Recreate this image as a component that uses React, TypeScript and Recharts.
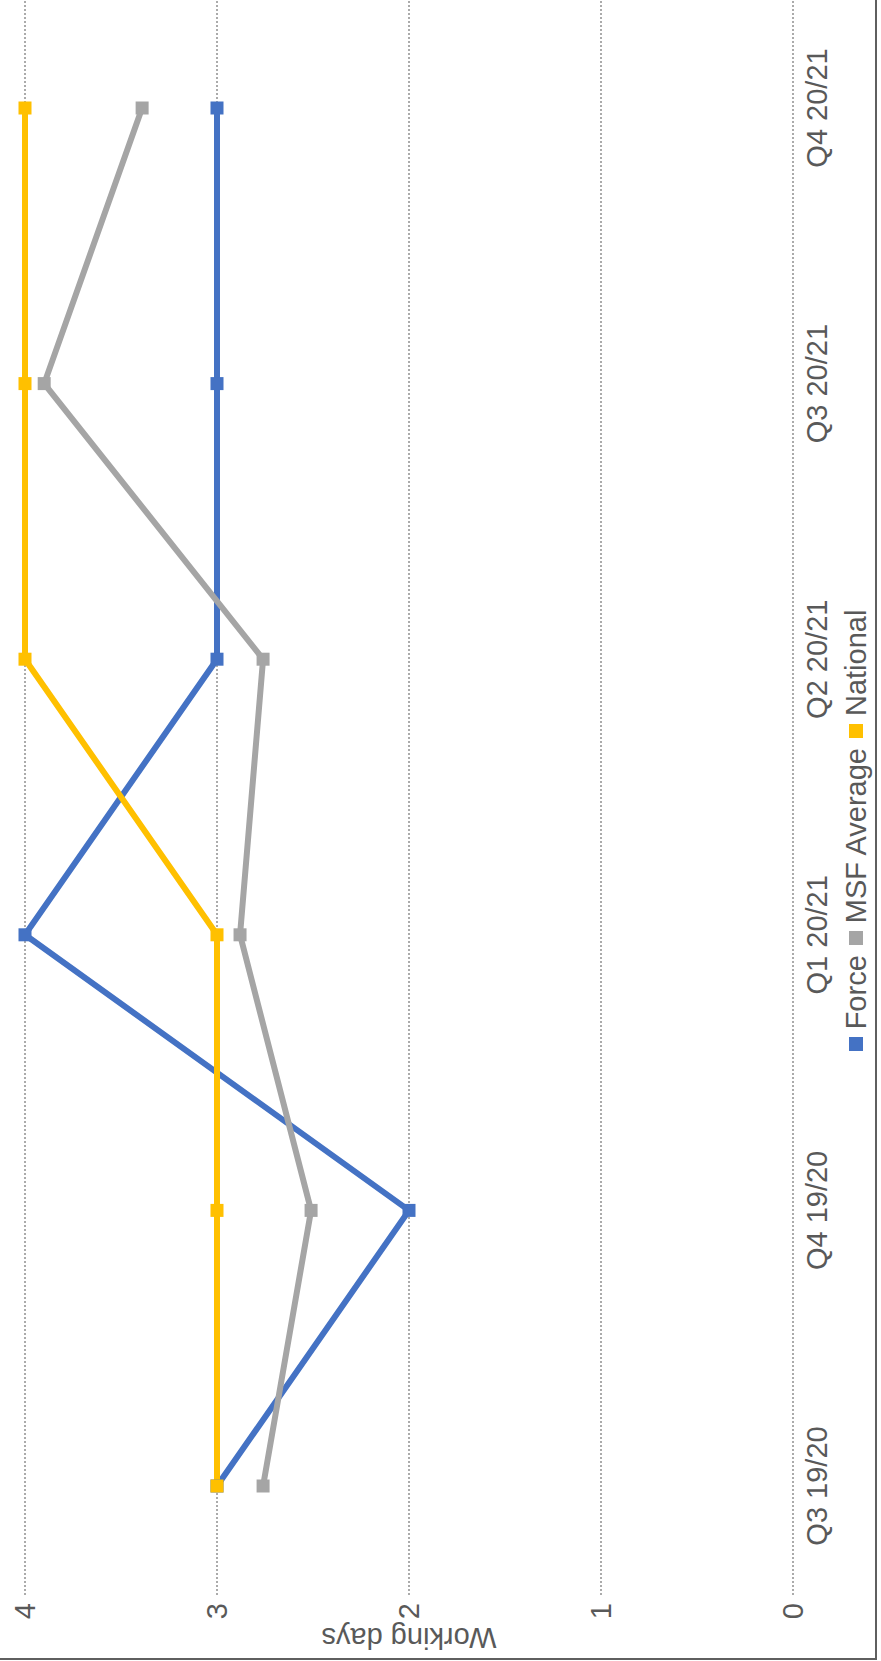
import React from 'react';
import { LineChart, Line, XAxis, YAxis, CartesianGrid } from 'recharts';

const categories = ['Q3 19/20', 'Q4 19/20', 'Q1 20/21', 'Q2 20/21', 'Q3 20/21', 'Q4 20/21'];
const forceValues = [3, 2, 4, 3, 3, 3];
const msfAverageValues = [2.76, 2.51, 2.88, 2.76, 3.9, 3.39];
const nationalValues = [3, 3, 3, 4, 4, 4];
const yTicks = [0, 1, 2, 3, 4];
const seriesNames = ['Force', 'MSF Average', 'National'];
const seriesColors = ['#4472C4', '#A5A5A5', '#FFC000'];
const yAxisTitle = 'Working days';

const data = categories.map((c, i) => ({
  name: c,
  force: forceValues[i],
  msf: msfAverageValues[i],
  national: nationalValues[i],
}));
const seriesKeys = ['force', 'msf', 'national'];

// layout (in the un-rotated chart frame)
const IMG_W = 881;
const IMG_H = 1661;
const CHART_W = 1670;
const CHART_H = 881;
const PLOT_TOP = 25;
const PLOT_BOTTOM = 793;
const Y_AXIS_W = 66;
const X_AXIS_H = 40;
const FONT = '"Liberation Sans", Arial, sans-serif';
const TEXT = '#595959';
const FS = 29;

const makeDot = (color: string) => (p: any) => (
  <rect
    key={`d-${p.index}-${color}`}
    x={p.cx - 6.5}
    y={p.cy - 6.5}
    width={13}
    height={13}
    fill={color}
  />
);

const XTick = (p: any) => (
  <text
    x={p.x}
    y={PLOT_BOTTOM + 34}
    textAnchor="middle"
    fill={TEXT}
    fontSize={FS}
    fontFamily={FONT}
  >
    {p.payload.value}
  </text>
);

const YTick = (p: any) => (
  <text
    x={Y_AXIS_W - 8}
    y={p.y}
    dy="0.36em"
    textAnchor="end"
    fill={TEXT}
    fontSize={FS}
    fontFamily={FONT}
  >
    {p.payload.value}
  </text>
);

const TitleLabel = () => {
  const cy = (PLOT_TOP + PLOT_BOTTOM) / 2;
  return (
    <text
      x={33}
      y={cy}
      transform={`rotate(-90 33 ${cy})`}
      textAnchor="middle"
      fill={TEXT}
      fontSize={FS}
      fontFamily={FONT}
    >
      {yAxisTitle}
    </text>
  );
};

export default function App() {
  return (
    <div
      style={{
        position: 'absolute',
        left: 0,
        top: 0,
        width: IMG_W,
        height: IMG_H,
        overflow: 'hidden',
        background: '#ffffff',
      }}
    >
      <div
        style={{
          position: 'absolute',
          left: 0,
          top: 0,
          width: CHART_W,
          height: CHART_H,
          transformOrigin: '0 0',
          transform: `translate(0px, ${IMG_H}px) rotate(-90deg)`,
        }}
      >
        <LineChart
          width={CHART_W}
          height={CHART_H}
          data={data}
          margin={{ top: PLOT_TOP, right: CHART_W - 1662, left: 0, bottom: CHART_H - PLOT_BOTTOM - X_AXIS_H }}
        >
          <CartesianGrid vertical={false} stroke="#ababab" strokeDasharray="2 2" strokeWidth={2} />
          <XAxis
            dataKey="name"
            axisLine={false}
            tickLine={false}
            height={X_AXIS_H}
            padding={{ left: 109, right: 109 }}
            tick={XTick}
            interval={0}
          />
          <YAxis
            domain={[0, 4]}
            ticks={yTicks}
            width={Y_AXIS_W}
            axisLine={false}
            tickLine={false}
            tick={YTick}
            label={{ content: TitleLabel }}
          />
          {seriesKeys.map((k, i) => (
            <Line
              key={k}
              type="linear"
              dataKey={k}
              name={seriesNames[i]}
              stroke={seriesColors[i]}
              strokeWidth={6}
              dot={makeDot(seriesColors[i])}
              activeDot={false}
              isAnimationActive={false}
            />
          ))}
        </LineChart>
        <div
          style={{
            position: 'absolute',
            left: 0,
            top: 856 - 20,
            width: IMG_H,
            height: 40,
            display: 'flex',
            justifyContent: 'center',
            alignItems: 'center',
            fontFamily: FONT,
            fontSize: FS,
            color: TEXT,
            whiteSpace: 'nowrap',
          }}
        >
          {seriesNames.map((n, i) => (
            <div key={n} style={{ display: 'flex', alignItems: 'center', marginRight: i < seriesNames.length - 1 ? 10 : 0 }}>
              <span style={{ display: 'inline-block', width: 14, height: 14, background: seriesColors[i], marginRight: 8 }} />
              <span style={{ lineHeight: '40px' }}>{n}</span>
            </div>
          ))}
        </div>
      </div>
      <div
        style={{
          position: 'absolute',
          left: 0,
          top: 0,
          width: 875,
          height: 1658,
          borderRight: '2px solid #5f5f5f',
          borderBottom: '2px solid #5f5f5f',
          pointerEvents: 'none',
        }}
      />
    </div>
  );
}
